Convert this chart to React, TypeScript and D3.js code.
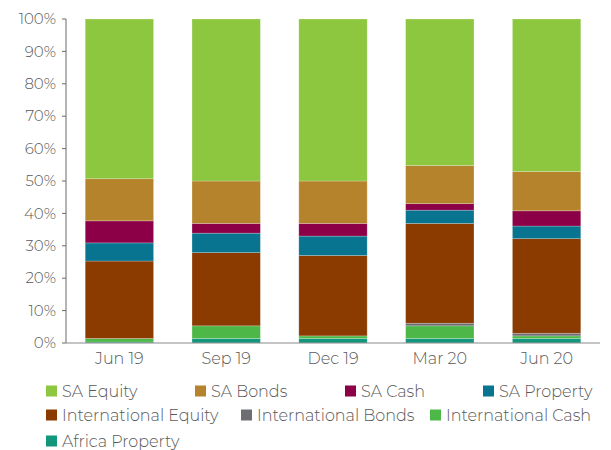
import React from "react";
import * as d3 from "d3";

const categories = ["Jun 19", "Sep 19", "Dec 19", "Mar 20", "Jun 20"];
const seriesNames = [
  "Africa Property",
  "International Cash",
  "International Bonds",
  "International Equity",
  "SA Property",
  "SA Cash",
  "SA Bonds",
  "SA Equity",
];
const africaProperty = [0.3, 1.4, 1.4, 1.4, 1.4];
const internationalCash = [1.1, 3.9, 0.8, 3.9, 0.8];
const internationalBonds = [0, 0, 0, 0.8, 0.8];
const internationalEquity = [23.9, 22.6, 24.8, 30.8, 29.2];
const saProperty = [5.6, 6.0, 6.0, 4.1, 3.9];
const saCash = [6.8, 3.0, 3.9, 2.0, 4.7];
const saBonds = [13.0, 13.1, 13.1, 11.8, 12.1];
const saEquity = [49.3, 50.0, 50.0, 45.2, 47.1];
const yTicks = [0, 10, 20, 30, 40, 50, 60, 70, 80, 90, 100];

const seriesValues = [
  africaProperty,
  internationalCash,
  internationalBonds,
  internationalEquity,
  saProperty,
  saCash,
  saBonds,
  saEquity,
];

const colors: Record<string, string> = {
  "SA Equity": "#8DC63F",
  "SA Bonds": "#B5832C",
  "SA Cash": "#8B0046",
  "SA Property": "#087490",
  "International Equity": "#8B3A00",
  "International Bonds": "#6D6E71",
  "International Cash": "#4DB848",
  "Africa Property": "#13977C",
};

// legend layout (positions only)
const legendLayout = [
  { name: "SA Equity", x: 46, y: 391 },
  { name: "SA Bonds", x: 195, y: 391 },
  { name: "SA Cash", x: 345, y: 391 },
  { name: "SA Property", x: 483, y: 391 },
  { name: "International Equity", x: 46, y: 415 },
  { name: "International Bonds", x: 241, y: 415 },
  { name: "International Cash", x: 430, y: 415 },
  { name: "Africa Property", x: 46, y: 441 },
];

const W = 611;
const H = 450;
const FONT = "Montserrat, 'Open Sans', 'Noto Sans', sans-serif";
const TEXT = "#595959";

export default function App() {
  const x = d3
    .scaleBand<string>()
    .domain(categories)
    .range([66, 600])
    .paddingInner(0.36)
    .paddingOuter(0.18);
  const y = d3.scaleLinear().domain([0, 100]).range([343, 19]);

  const rows = categories.map((c, i) => {
    const r: Record<string, number | string> = { cat: c };
    seriesNames.forEach((s, j) => (r[s] = seriesValues[j][i]));
    return r;
  });
  const stacked = d3.stack<any>().keys(seriesNames)(rows);

  return (
    <svg
      width={W}
      height={H}
      style={{ position: "absolute", left: 0, top: 0, background: "#fff" }}
      fontFamily={FONT}
    >
      {stacked.map((layer) => (
        <g key={layer.key} fill={colors[layer.key]}>
          {layer.map((d, i) => {
            const h = y(d[0]) - y(d[1]);
            if (h <= 0) return null;
            return (
              <rect
                key={i}
                x={x(categories[i])}
                y={y(d[1])}
                width={x.bandwidth()}
                height={h}
                stroke="#ffffff"
                strokeOpacity={0.3}
                strokeWidth={0.75}
              />
            );
          })}
        </g>
      ))}
      {/* y axis */}
      <line x1={66} x2={66} y1={y(100)} y2={y(0)} stroke="#6b6b6b" strokeWidth={1} />
      {yTicks.map((t) => (
        <g key={t}>
          <line x1={62} x2={66} y1={y(t)} y2={y(t)} stroke="#6b6b6b" strokeWidth={1} />
          <text
            x={56}
            y={y(t)}
            dy="0.35em"
            textAnchor="end"
            fontSize={15}
            fontWeight={300}
            fill={TEXT}
          >
            {t}%
          </text>
        </g>
      ))}
      {/* x axis */}
      <line x1={66} x2={600} y1={y(0)} y2={y(0)} stroke="#8a8a8a" strokeWidth={1.2} />
      {categories.map((c) => (
        <text
          key={c}
          x={(x(c) as number) + x.bandwidth() / 2}
          y={358}
          dy="0.35em"
          textAnchor="middle"
          fontSize={16}
          fontWeight={300}
          fill={TEXT}
        >
          {c}
        </text>
      ))}
      {/* legend */}
      {legendLayout.map((l) => (
        <g key={l.name}>
          <rect x={l.x} y={l.y - 5.5} width={11} height={11} fill={colors[l.name]} />
          <text
            x={l.x + 16}
            y={l.y}
            dy="0.35em"
            fontSize={16}
            fontWeight={300}
            fill={TEXT}
          >
            {l.name}
          </text>
        </g>
      ))}
    </svg>
  );
}
